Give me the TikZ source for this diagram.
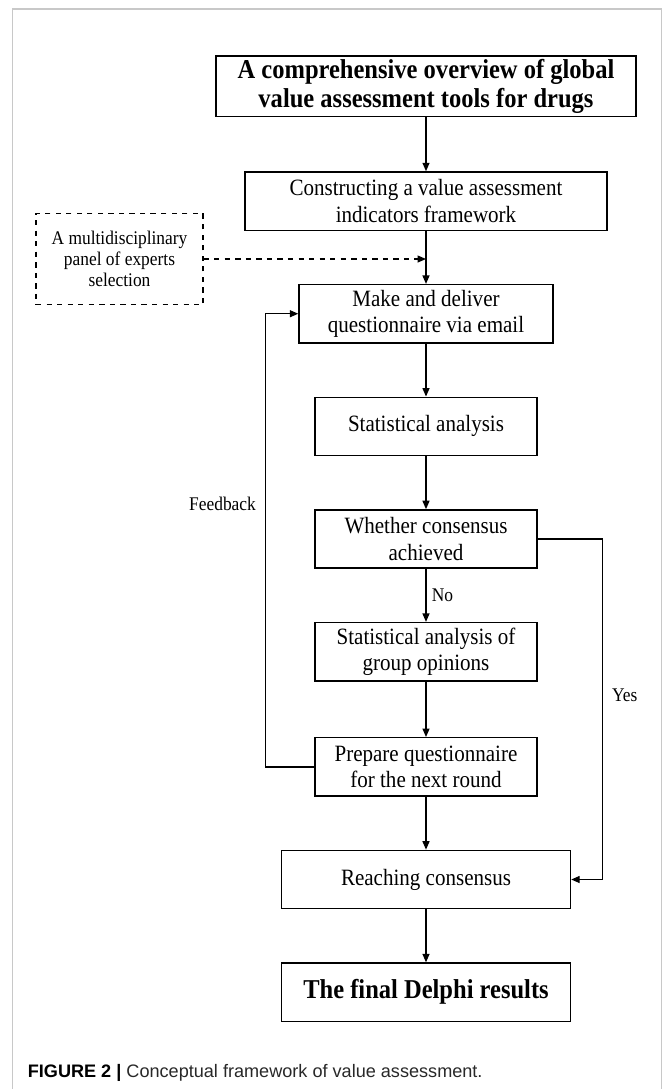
\documentclass[tikz,border=0pt]{standalone}
\usepackage{fontspec}
\setmainfont[FakeStretch=0.9]{Liberation Serif}
\newfontfamily\capfont{Liberation Sans}
\usepackage{tikz}
\usetikzlibrary{arrows.meta, positioning}
\definecolor{lineBlack}{RGB}{0,0,0}
\definecolor{frameGray}{RGB}{200,200,200}
\definecolor{capText}{RGB}{40,40,40}
\tikzset{
    stepbox/.style={rectangle, draw=lineBlack, line width=0.8pt, align=center,
                    minimum height=1.165cm, inner sep=2pt, font=\fontsize{13.3}{15.2}\selectfont},
    headbox/.style={stepbox, minimum height=1.2cm, font=\fontsize{15.5}{16.2}\selectfont\bfseries},
    panel/.style={rectangle, draw=lineBlack, dashed, line width=0.7pt, align=center,
                  inner sep=2pt, font=\fontsize{11}{12.1}\selectfont},
    flow/.style={-{Triangle[length=1.7mm, width=1.4mm]}, line width=0.75pt, lineBlack},
    dflow/.style={flow, dashed},
    lbl/.style={font=\fontsize{11}{12}\selectfont, inner sep=1pt},
    framebox/.style={draw=frameGray, line width=0.9pt}
}
\begin{document}
\begin{tikzpicture}[node distance=1.06cm]
    \useasboundingbox (0,0) rectangle (13.26,-21.78);
    % page frame
    \draw[framebox] (0.254,-21.78) |- (13.234,-0.18) -- (13.234,-21.78);

    % main column
    \node[headbox, minimum width=8.40cm] (overview) at (8.52,-1.724)
        {A comprehensive overview of global\\value assessment tools for drugs};
    \node[stepbox, minimum width=7.24cm, below=1.08cm of overview] (framework)
        {Constructing a value assessment\\indicators framework};
    \node[stepbox, minimum width=5.08cm, below=of framework] (deliver)
        {Make and deliver\\questionnaire via email};
    \node[stepbox, minimum width=4.44cm, below=of deliver] (stats)
        {Statistical analysis};
    \node[stepbox, minimum width=4.44cm, below=of stats] (consensus)
        {Whether consensus\\achieved};
    \node[stepbox, minimum width=4.44cm, below=of consensus] (opinions)
        {Statistical analysis of\\group opinions};
    \node[stepbox, minimum width=4.44cm, below=1.11cm of opinions] (prepare)
        {Prepare questionnaire\\for the next round};
    \node[stepbox, minimum width=5.78cm, below=of prepare] (reaching)
        {Reaching consensus};
    \node[headbox, minimum width=5.78cm, minimum height=1.165cm, below=of reaching] (results)
        {The final Delphi results};

    % expert panel
    \node[panel, minimum width=3.34cm, minimum height=1.83cm] (experts) at (2.39,-5.18)
        {A multidisciplinary\\panel of experts\\selection};

    % caption
    \node[anchor=west, inner sep=0pt, font=\capfont\fontsize{10.3}{12}\selectfont] (caption) at (0.55,-21.46)
        {\textbf{FIGURE 2 |} \textcolor{capText}{Conceptual framework of value assessment.}};

    % flows
    \draw[flow] (overview) -- (framework);
    \draw[flow] (framework) -- (deliver);
    \draw[dflow] (experts.east) -- (experts.east -| framework.south);
    \draw[flow] (deliver) -- (stats);
    \draw[flow] (stats) -- (consensus);
    \draw[flow] (consensus) -- node[lbl, right, xshift=2pt]{No} (opinions);
    \draw[flow] (opinions) -- (prepare);
    \draw[flow] (prepare) -- (reaching);
    \draw[flow] (reaching) -- (results);
    \draw[flow] (prepare.west) -- ++(-0.98,0) |- node[lbl, left, pos=0.29, xshift=-4pt]{Feedback} (deliver.west);
    \draw[flow] (consensus.east) -- ++(1.30,0) |- node[lbl, right, pos=0.23, xshift=4pt]{Yes} (reaching.east);
\end{tikzpicture}
\end{document}
